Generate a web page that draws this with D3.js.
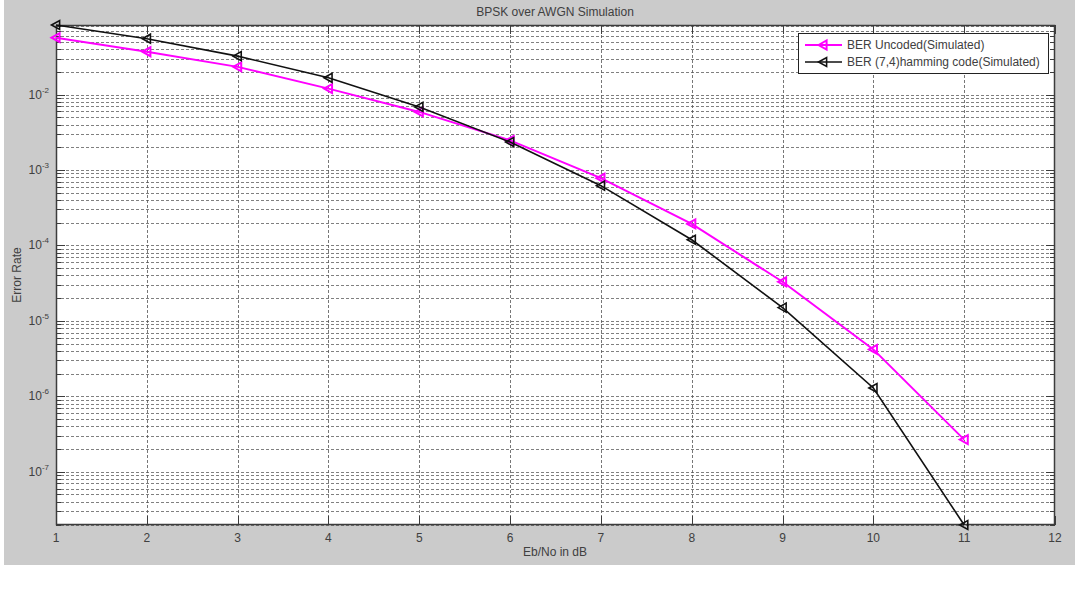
<html>
<head>
  <script src="https://d3js.org/d3.v7.min.js"></script>
  <style>
    body { margin: 0; background: #fff; }
    text { font-family: "Liberation Sans", Arial, sans-serif; fill: #404040; }
  </style>
</head>
<body>
<svg id="chart" width="1080" height="590"></svg>
<script>
// data
var ebno = [1, 2, 3, 4, 5, 6, 7, 8, 9, 10, 11];
var berUncoded = [0.0568, 0.037, 0.0233, 0.012, 0.00589, 0.00247, 7.8e-4, 1.93e-4, 3.3e-5, 4.19e-6, 2.67e-7];
var berHamming = [0.0836, 0.055, 0.0323, 0.0167, 0.00686, 0.00235, 6.2e-4, 1.19e-4, 1.5e-5, 1.29e-6, 1.97e-8];
var xTicks = [1, 2, 3, 4, 5, 6, 7, 8, 9, 10, 11, 12];
var yExponents = [-7, -6, -5, -4, -3, -2];
var seriesNames = ["BER Uncoded(Simulated)", "BER (7,4)hamming code(Simulated)"];

var svg = d3.select("#chart");

// figure background
svg.append("rect").attr("x", 4).attr("y", 0).attr("width", 1071).attr("height", 565).attr("fill", "#cbcbcb");

var pLeft = 56, pRight = 1055, pTop = 25, pBottom = 525;

var allVals = berUncoded.concat(berHamming);
var x = d3.scaleLinear().domain([1, 12]).range([pLeft, pRight]);
var y = d3.scaleLog().domain([d3.min(allVals), d3.max(allVals)]).range([pBottom, pTop]);

svg.append("rect").attr("x", pLeft).attr("y", pTop).attr("width", pRight - pLeft).attr("height", pBottom - pTop).attr("fill", "#fff");

// minor + major y values inside the domain
var yLines = [];
for (var e = -8; e <= -1; e++) {
  for (var m = 1; m <= 9; m++) {
    var v = m * Math.pow(10, e);
    if (v >= y.domain()[0] && v <= y.domain()[1]) yLines.push({v: v, major: m == 1});
  }
}

var grid = svg.append("g").attr("stroke", "#555").attr("stroke-dasharray", "3,2").attr("stroke-width", 1);
grid.selectAll(".hg").data(yLines).enter().append("line")
  .attr("x1", pLeft).attr("x2", pRight)
  .attr("y1", function(d) { return Math.round(y(d.v)) + 0.5; })
  .attr("y2", function(d) { return Math.round(y(d.v)) + 0.5; })
  .attr("stroke-opacity", 0.75);
grid.selectAll(".vg").data(xTicks.slice(1, -1)).enter().append("line")
  .attr("y1", pTop).attr("y2", pBottom)
  .attr("x1", function(d) { return Math.round(x(d)) + 0.5; })
  .attr("x2", function(d) { return Math.round(x(d)) + 0.5; })
  .attr("stroke-opacity", 0.8);

// ticks (inside, both sides)
var ticks = svg.append("g").attr("stroke", "#3c3c3c").attr("stroke-width", 1);
yLines.forEach(function(d) {
  var len = d.major ? 9 : 5;
  var yy = Math.round(y(d.v)) + 0.5;
  ticks.append("line").attr("x1", pLeft).attr("x2", pLeft + len).attr("y1", yy).attr("y2", yy);
  ticks.append("line").attr("x1", pRight).attr("x2", pRight - len).attr("y1", yy).attr("y2", yy);
});
xTicks.forEach(function(d) {
  var xx = Math.round(x(d)) + 0.5;
  ticks.append("line").attr("x1", xx).attr("x2", xx).attr("y1", pBottom).attr("y2", pBottom - 9);
  ticks.append("line").attr("x1", xx).attr("x2", xx).attr("y1", pTop).attr("y2", pTop + 9);
});

// axis box
svg.append("rect").attr("x", pLeft + 0.5).attr("y", pTop + 0.5).attr("width", pRight - pLeft - 1).attr("height", pBottom - pTop - 1)
  .attr("fill", "none").attr("stroke", "#3c3c3c").attr("stroke-width", 1.5);

// tick labels
svg.selectAll(".xl").data(xTicks).enter().append("text")
  .attr("x", function(d) { return x(d); }).attr("y", 542)
  .attr("text-anchor", "middle").attr("font-size", 12).text(function(d) { return d; });

yExponents.forEach(function(e) {
  var t = svg.append("text").attr("x", 49).attr("y", y(Math.pow(10, e)) + 4)
    .attr("text-anchor", "end").attr("font-size", 12);
  t.append("tspan").text("10");
  t.append("tspan").attr("dy", -6).attr("font-size", 8).text(e);
});

// titles
svg.append("text").attr("x", 555).attr("y", 16).attr("text-anchor", "middle").attr("font-size", 12).text("BPSK over AWGN Simulation");
svg.append("text").attr("x", 555).attr("y", 556).attr("text-anchor", "middle").attr("font-size", 12).text("Eb/No in dB");
svg.append("text").attr("transform", "translate(21," + ((pTop + pBottom) / 2) + ") rotate(-90)")
  .attr("text-anchor", "middle").attr("font-size", 12).text("Error Rate");

// lines + markers
var line = d3.line().x(function(d) { return x(d[0]); }).y(function(d) { return y(d[1]); });
function tri(cx, cy, s) {
  return "M" + (cx - s) + "," + cy + "L" + (cx + s * 0.8) + "," + (cy - s) + "L" + (cx + s * 0.8) + "," + (cy + s) + "Z";
}
var series = [
  {vals: berUncoded, color: "#ff00ff", w: 2},
  {vals: berHamming, color: "#111", w: 1.6}
];
series.forEach(function(s) {
  var pts = ebno.map(function(e, i) { return [e, s.vals[i]]; });
  svg.append("path").datum(pts).attr("d", line).attr("fill", "none")
    .attr("stroke", s.color).attr("stroke-width", s.w);
  svg.selectAll(null).data(pts).enter().append("path")
    .attr("d", function(d) { return tri(x(d[0]), y(d[1]), 4.5); })
    .attr("fill", "none").attr("stroke", s.color).attr("stroke-width", s.w);
});

// legend
var lg = svg.append("g");
lg.append("rect").attr("x", 798.5).attr("y", 33.5).attr("width", 250).attr("height", 40)
  .attr("fill", "#fff").attr("stroke", "#222").attr("stroke-width", 1);
series.forEach(function(s, i) {
  var yy = 45 + i * 17;
  lg.append("line").attr("x1", 805).attr("x2", 842).attr("y1", yy).attr("y2", yy)
    .attr("stroke", s.color).attr("stroke-width", s.w);
  lg.append("path").attr("d", tri(823, yy, 4.5)).attr("fill", "none").attr("stroke", s.color).attr("stroke-width", s.w);
  lg.append("text").attr("x", 847).attr("y", yy + 4).attr("font-size", 12).text(seriesNames[i]);
});
</script>
</body>
</html>
